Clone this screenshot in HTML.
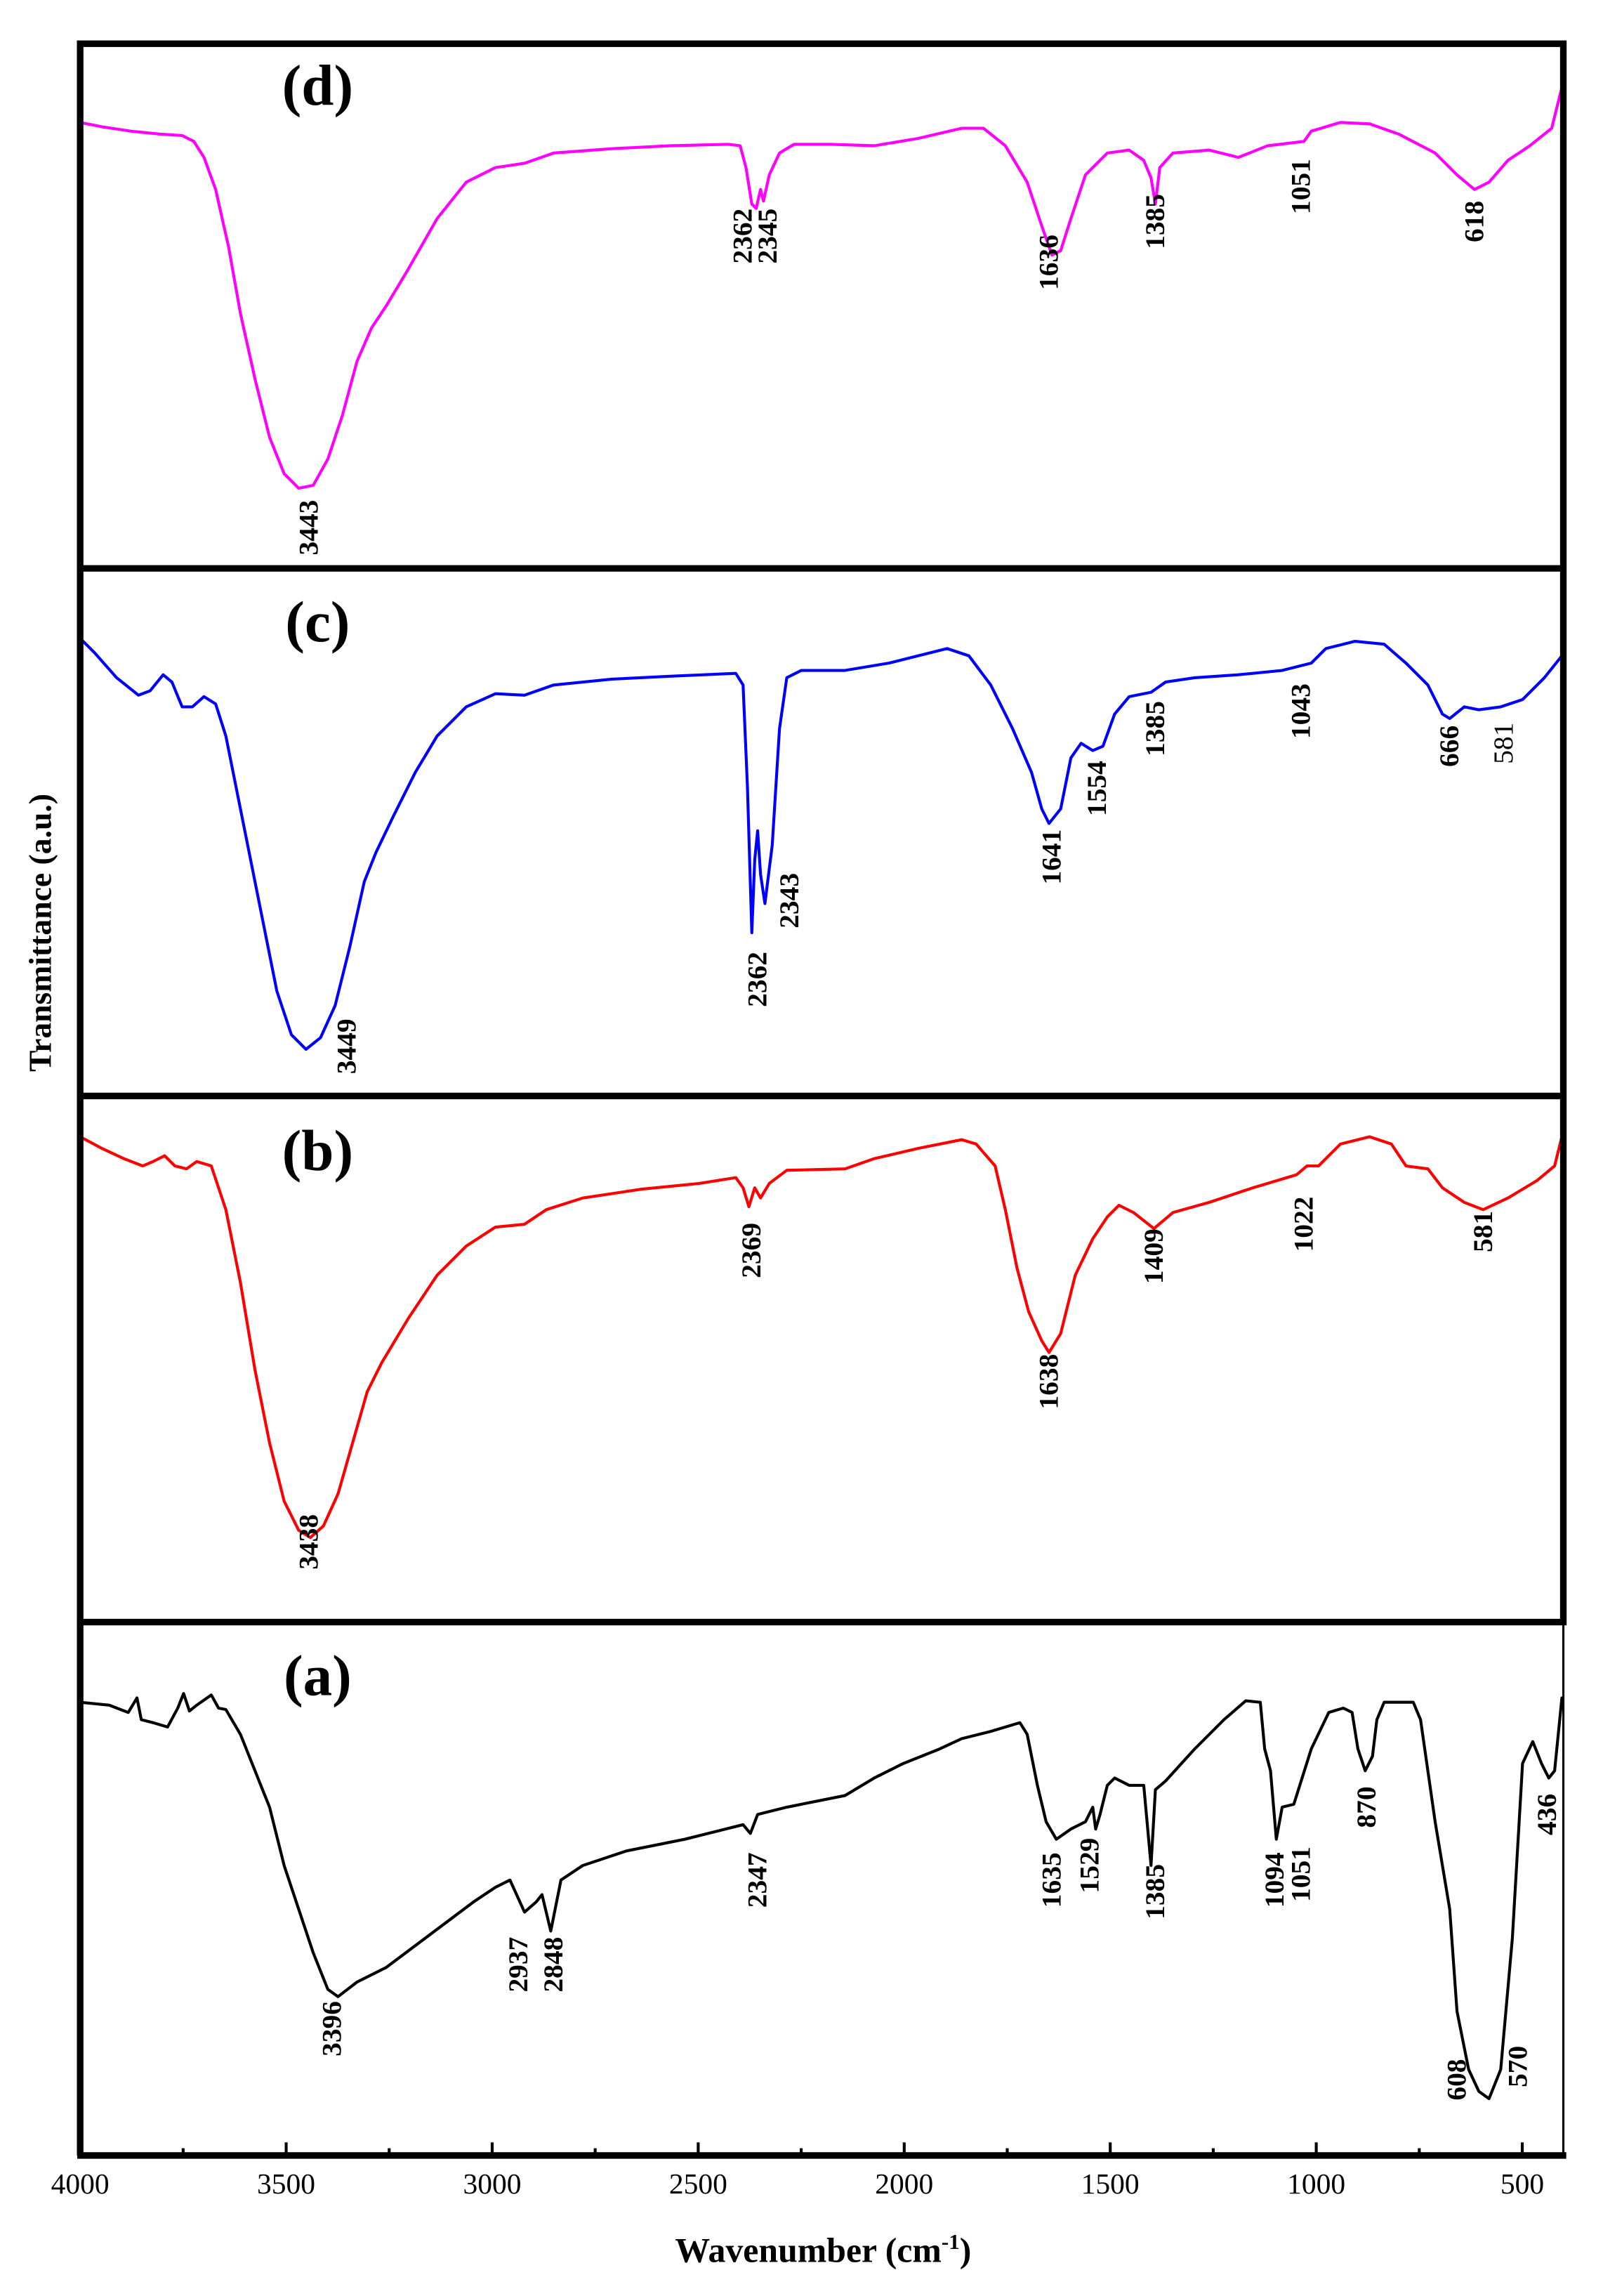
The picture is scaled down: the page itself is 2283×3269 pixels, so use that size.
<!DOCTYPE html>
<html><head><meta charset="utf-8"><style>
html,body{margin:0;padding:0;background:#fff}
svg{display:block}
text{font-family:"Liberation Serif",serif}
.pk{font-size:19px;font-weight:bold}
.pn{font-size:19px}
.pl{font-size:40px;font-weight:bold}
.tk{font-size:20px}
</style></head><body>
<svg width="2283" height="3269" viewBox="0 0 1100.2 1575.4" xmlns="http://www.w3.org/2000/svg">
<g fill="none" stroke-width="2" stroke-linejoin="round" stroke-linecap="round">
<polyline stroke="#ff00ff" points="55,84 70,87 90,90 110,92 125,93 133,97 140,108 148,130 157,170 165,215 175,260 185,300 195,325 205,335 215,333 225,315 235,285 245,248 255,225 265,210 280,185 300,150 320,125 340,115 360,112 380,105 420,102 460,100 500,99 508,100 512,115 516,140 519,143 522,130 524,138 528,120 535,105 545,99 570,99 600,100 630,95 660,88 675,88 690,100 705,125 715,155 722,175 728,172 735,150 745,120 760,105 775,103 785,110 790,122 793,140 796,115 805,105 830,103 850,108 870,100 895,97 900,90 920,84 940,85 960,92 985,105 1000,120 1012,130 1022,125 1035,110 1050,100 1065,88 1072,60"/>
<polyline stroke="#0000ff" points="55,438 65,448 80,465 95,477 103,474 112,463 118,468 125,485 132,485 140,478 148,483 155,505 162,540 170,580 180,630 190,680 200,710 210,720 220,712 230,690 240,650 250,605 258,585 270,560 285,530 300,505 320,485 340,476 360,477 380,470 420,466 460,464 505,462 510,470 513,540 516,640 518,590 520,570 522,600 525,620 530,580 535,500 540,465 550,460 580,460 610,455 650,445 665,450 680,470 695,500 708,530 715,555 720,565 728,555 735,520 742,510 750,515 757,512 765,490 775,478 790,475 800,468 820,465 850,463 880,460 900,455 910,445 930,440 950,442 965,455 980,470 990,490 995,493 1005,485 1015,487 1030,485 1045,480 1060,465 1072,450"/>
<polyline stroke="#ff0000" points="55,780 70,788 85,795 98,800 105,797 113,793 120,800 128,802 135,797 145,800 155,830 165,880 175,940 185,990 195,1030 205,1050 213,1055 222,1047 232,1025 242,990 252,955 262,935 280,905 300,875 320,855 340,842 360,840 375,830 400,822 440,816 480,812 505,808 510,815 514,828 518,815 522,822 528,812 540,803 580,802 600,795 630,788 660,782 670,785 683,800 690,830 698,870 706,900 715,920 720,928 728,915 738,875 750,850 760,835 768,827 778,832 792,843 805,832 830,825 860,815 890,806 897,800 905,800 920,785 940,780 955,785 965,800 980,802 990,815 1005,825 1018,830 1035,822 1055,810 1067,800 1072,780"/>
<polyline stroke="#000" points="55,1168 75,1170 88,1175 94,1165 97,1180 105,1182 115,1185 122,1172 126,1162 130,1174 135,1170 145,1163 150,1172 155,1173 165,1190 175,1215 185,1240 195,1280 205,1310 215,1340 225,1365 232,1370 245,1360 265,1350 285,1335 305,1320 325,1305 340,1295 350,1290 360,1312 368,1305 372,1300 378,1325 385,1290 400,1280 430,1270 470,1262 510,1252 515,1258 520,1245 540,1240 580,1232 600,1220 620,1210 645,1200 660,1193 680,1188 700,1182 705,1190 712,1225 718,1250 725,1262 735,1255 745,1250 750,1240 752,1255 755,1245 760,1225 765,1220 775,1225 785,1225 790,1280 793,1228 800,1222 820,1200 840,1180 855,1167 865,1168 868,1200 872,1215 876,1262 880,1240 888,1238 900,1200 912,1175 922,1172 928,1175 932,1200 937,1215 942,1205 945,1180 950,1168 970,1168 975,1180 985,1250 995,1310 1000,1380 1008,1420 1015,1435 1022,1440 1030,1420 1038,1330 1045,1210 1052,1195 1058,1210 1063,1220 1067,1215 1072,1165"/>
</g>
<!-- frames -->
<g stroke="#000" fill="none">
<rect x="55" y="30" width="1018" height="1083" stroke-width="4.5"/>
<line x1="55" y1="390" x2="1073" y2="390" stroke-width="4.5"/>
<line x1="55" y1="752" x2="1073" y2="752" stroke-width="4.5"/>
<line x1="55" y1="1113" x2="55" y2="1479" stroke-width="4.5"/>
<line x1="1073" y1="1113" x2="1073" y2="1479" stroke-width="1.5"/>
<line x1="53" y1="1479" x2="1075" y2="1479" stroke-width="4.5"/>
<g stroke-width="2">
<line x1="196.4" y1="1479" x2="196.4" y2="1470"/><line x1="337.8" y1="1479" x2="337.8" y2="1470"/><line x1="479.2" y1="1479" x2="479.2" y2="1470"/><line x1="620.6" y1="1479" x2="620.6" y2="1470"/><line x1="762" y1="1479" x2="762" y2="1470"/><line x1="903.4" y1="1479" x2="903.4" y2="1470"/><line x1="1044.8" y1="1479" x2="1044.8" y2="1470"/>
<line x1="125.7" y1="1479" x2="125.7" y2="1474"/><line x1="267.1" y1="1479" x2="267.1" y2="1474"/><line x1="408.5" y1="1479" x2="408.5" y2="1474"/><line x1="549.9" y1="1479" x2="549.9" y2="1474"/><line x1="691.3" y1="1479" x2="691.3" y2="1474"/><line x1="832.7" y1="1479" x2="832.7" y2="1474"/><line x1="974.1" y1="1479" x2="974.1" y2="1474"/>
</g></g>
<g class="tk" text-anchor="middle">
<text x="55" y="1505">4000</text><text x="196.4" y="1505">3500</text><text x="337.8" y="1505">3000</text><text x="479.2" y="1505">2500</text><text x="620.6" y="1505">2000</text><text x="762" y="1505">1500</text><text x="903.4" y="1505">1000</text><text x="1044.8" y="1505">500</text>
</g>
<text x="565" y="1552" text-anchor="middle" font-size="24" font-weight="bold">Wavenumber (cm<tspan font-size="15" dy="-9">-1</tspan><tspan dy="9">)</tspan></text>
<text transform="translate(35,640) rotate(-90)" text-anchor="middle" font-size="22" font-weight="bold">Transmittance (a.u.)</text>
<g class="pl" text-anchor="middle">
<text x="218" y="72">(d)</text><text x="218" y="440">(c)</text><text x="218" y="803">(b)</text><text x="218" y="1163">(a)</text>
</g>
<g class="pk" text-anchor="middle">
<text transform="translate(218,362) rotate(-90)">3443</text>
<text transform="translate(516,162) rotate(-90)">2362</text>
<text transform="translate(533,162) rotate(-90)">2345</text>
<text transform="translate(726,180) rotate(-90)">1636</text>
<text transform="translate(799,152) rotate(-90)">1385</text>
<text transform="translate(899,128) rotate(-90)">1051</text>
<text transform="translate(1018,152) rotate(-90)">618</text>
<text transform="translate(244,718) rotate(-90)">3449</text>
<text transform="translate(526,672) rotate(-90)">2362</text>
<text transform="translate(548,618) rotate(-90)">2343</text>
<text transform="translate(728,588) rotate(-90)">1641</text>
<text transform="translate(759,541) rotate(-90)">1554</text>
<text transform="translate(799,500) rotate(-90)">1385</text>
<text transform="translate(899,488) rotate(-90)">1043</text>
<text transform="translate(1001,512) rotate(-90)">666</text>
<text transform="translate(218,1058) rotate(-90)">3438</text>
<text transform="translate(522,858) rotate(-90)">2369</text>
<text transform="translate(726,948) rotate(-90)">1638</text>
<text transform="translate(798,862) rotate(-90)">1409</text>
<text transform="translate(901,840) rotate(-90)">1022</text>
<text transform="translate(1024,845) rotate(-90)">581</text>
<text transform="translate(234,1392) rotate(-90)">3396</text>
<text transform="translate(362,1348) rotate(-90)">2937</text>
<text transform="translate(386,1348) rotate(-90)">2848</text>
<text transform="translate(526,1290) rotate(-90)">2347</text>
<text transform="translate(728,1290) rotate(-90)">1635</text>
<text transform="translate(754,1280) rotate(-90)">1529</text>
<text transform="translate(799,1298) rotate(-90)">1385</text>
<text transform="translate(881,1290) rotate(-90)">1094</text>
<text transform="translate(899,1286) rotate(-90)">1051</text>
<text transform="translate(944,1240) rotate(-90)">870</text>
<text transform="translate(1068,1245) rotate(-90)">436</text>
<text transform="translate(1006,1427) rotate(-90)">608</text>
<text transform="translate(1048,1418) rotate(-90)">570</text>
</g>
<text class="pn" text-anchor="middle" transform="translate(1038,510) rotate(-90)">581</text>
</svg>
</body></html>
